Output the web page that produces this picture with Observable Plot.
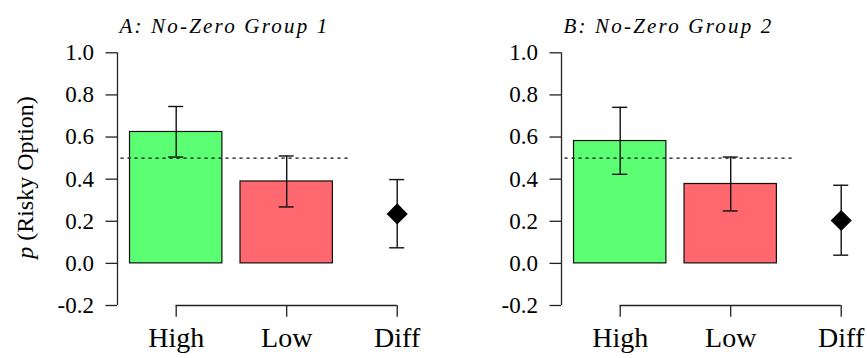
<!DOCTYPE html>
<html>
<head>
<meta charset="utf-8">
<script>
  // start loading the serif faces early so labels are drawn with them
  if (document.fonts && document.fonts.load) {
    document.fonts.load('23px "Liberation Serif"');
    document.fonts.load('italic 23px "Liberation Serif"');
  }
</script>
<script src="https://cdn.jsdelivr.net/npm/d3@7"></script>
<script src="https://cdn.jsdelivr.net/npm/@observablehq/plot@0.6"></script>
<style>
  html, body { margin: 0; padding: 0; background: #fff; font-family: "Liberation Serif", serif; }
  #chart { display: flex; width: 867px; height: 358px; }
  #chart svg { flex: none; }
</style>
</head>
<body>
<div id="chart"></div>
<script>
// Conditions on the x axis; the third slot is the High − Low difference
const categories = ["High", "Low", "Diff"];
const panelTitles = ["A: No-Zero Group 1", "B: No-Zero Group 2"];
const yTicks = [-0.2, 0.0, 0.2, 0.4, 0.6, 0.8, 1.0];
const yLabel = "p (Risky Option)";

// Proportion of risky choices with interval bounds (High, Low, Diff)
const group1Mean  = [0.624, 0.389, 0.235];
const group1Lower = [0.505, 0.268, 0.074];
const group1Upper = [0.745, 0.510, 0.398];

const group2Mean  = [0.581, 0.377, 0.204];
const group2Lower = [0.423, 0.249, 0.039];
const group2Upper = [0.741, 0.505, 0.371];

const chanceLevel = 0.5;
const barColors = ["#5cff73", "#ff686e"];

// Panel geometry (pixels)
const panelWidths = [444, 423];
const H = 358, mL = 117, mT = 52.3, mB = 53;
const step = 110.5;        // distance between category centres
const firstCenter = 175.7; // x of the first category centre
const xAt = (px) => (px - firstCenter) / step;
const yAt = (px) => -0.2 + (H - mB - px) / (H - mB - mT) * 1.2;

const ink = "#111";
const serif = "Liberation Serif";
const barHalf = 0.418;
const capHalf = 0.068;

function panel(mean, lower, upper, title, withYLabel, W) {
  const xDomain = [xAt(mL), xAt(W)];
  const rows = categories.map((c, i) => ({cat: c, i, mean: mean[i], lo: lower[i], hi: upper[i]}));
  const bars = rows.slice(0, 2);
  const diff = rows.slice(2);

  const marks = [
    Plot.rectY(bars, {
      x1: (d) => d.i - barHalf, x2: (d) => d.i + barHalf,
      y1: 0, y2: "mean",
      fill: (d) => barColors[d.i], stroke: ink, strokeWidth: 1.2
    }),
    Plot.ruleY([chanceLevel], {x1: -0.5, x2: 1.583, stroke: ink, strokeWidth: 1.2, strokeDasharray: "3.2,3.8"}),
    Plot.ruleX(rows, {x: "i", y1: "lo", y2: "hi", stroke: ink, strokeWidth: 1.4}),
    Plot.ruleY(rows, {y: "lo", x1: (d) => d.i - capHalf, x2: (d) => d.i + capHalf, stroke: ink, strokeWidth: 1.4}),
    Plot.ruleY(rows, {y: "hi", x1: (d) => d.i - capHalf, x2: (d) => d.i + capHalf, stroke: ink, strokeWidth: 1.4}),
    Plot.dot(diff, {x: "i", y: "mean", symbol: "diamond2", r: 9.5, fill: "#000", stroke: null}),
    // axes
    Plot.ruleX([xDomain[0]], {y1: yTicks[0], y2: yTicks[yTicks.length - 1], stroke: "#222", strokeWidth: 1.3}),
    Plot.axisY({
      ticks: yTicks, tickSize: 11.5, tickPadding: 12, label: null,
      tickFormat: (d) => d.toFixed(1), fontSize: 23, fontFamily: serif, stroke: "#222", strokeWidth: 1.3
    }),
    Plot.ruleY([yTicks[0]], {x1: 0, x2: categories.length - 1, stroke: "#222", strokeWidth: 1.3}),
    Plot.axisX({
      ticks: categories.map((c, i) => i), tickFormat: (i) => categories[i],
      tickSize: 11.7, tickPadding: 10, label: null, fontSize: 28, fontFamily: serif, stroke: "#222", strokeWidth: 1.3
    }),
    Plot.text([title], {
      frameAnchor: "top-left", dx: 224 - mL, dy: 17.3 - mT,
      text: (d) => d, fontSize: 21, fontFamily: serif, fontStyle: "italic", textAnchor: "middle"
    })
  ];
  if (withYLabel) {
    marks.push(Plot.text([yLabel], {x: xAt(25), y: yAt(177), text: (d) => d, rotate: -90, fontSize: 24, fontFamily: serif}));
  }

  const svg = Plot.plot({
    width: W, height: H,
    marginLeft: mL, marginRight: 0, marginTop: mT, marginBottom: mB,
    x: {domain: xDomain},
    y: {domain: [yTicks[0], yTicks[yTicks.length - 1]]},
    color: {type: "identity"},
    marks
  });
  svg.style.maxWidth = "none";
  svg.setAttribute("font-family", serif);

  // widen the title and set the italic p in the axis label
  svg.querySelectorAll("text").forEach((t) => {
    if (t.textContent === title) t.setAttribute("letter-spacing", "2.2");
    if (t.textContent === yLabel) {
      t.textContent = "";
      const ns = "http://www.w3.org/2000/svg";
      const p = document.createElementNS(ns, "tspan");
      p.setAttribute("font-style", "italic");
      p.textContent = "p";
      const rest = document.createElementNS(ns, "tspan");
      rest.textContent = " (Risky Option)";
      t.append(p, rest);
    }
  });
  return svg;
}

const chart = document.getElementById("chart");
[[group1Mean, group1Lower, group1Upper], [group2Mean, group2Lower, group2Upper]].forEach(([m, lo, hi], k) => {
  chart.appendChild(panel(m, lo, hi, panelTitles[k], k === 0, panelWidths[k]));
});

// resolve styles right away so the serif faces are requested during page load
void chart.offsetWidth;
chart.querySelectorAll("text").forEach((t) => getComputedStyle(t).fontFamily);
</script>
</body>
</html>
